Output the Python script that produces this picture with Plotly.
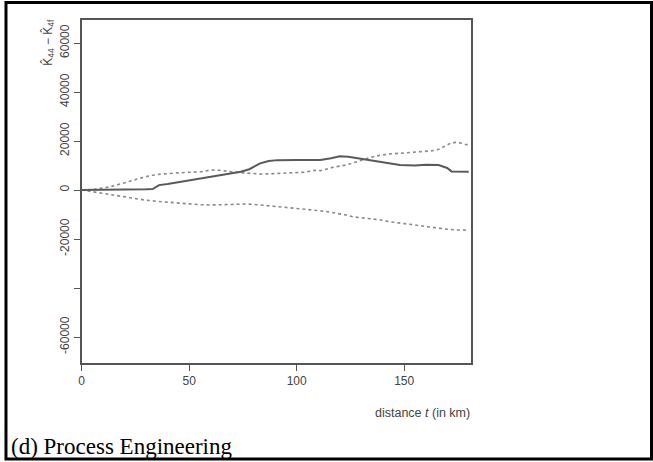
import plotly.graph_objects as go

# ---------------- data ----------------
t_est = [0, 5, 10, 20, 30, 33, 36, 40, 46, 52, 56, 62, 68, 74, 78, 83, 87, 91, 100,
         111, 116, 120, 124, 128, 132, 135, 140, 143, 148, 155, 160, 166, 170, 172,
         176, 180]
k_est = [0, 0, 0, 200, 300, 400, 2000, 2500, 3400, 4000, 4800, 5800, 6500, 7500,
         8500, 10900, 11800, 12200, 12300, 12300, 13000, 13800, 13600, 13000, 12600,
         12200, 11300, 10900, 10200, 10000, 10300, 10200, 9000, 7600, 7500, 7500]

t_upper = [0, 5, 10, 14, 19, 24, 29.5, 33, 37, 45, 50, 56, 60, 65, 70, 74, 79, 83,
           90, 99, 104, 108, 111, 117, 120, 123, 126, 129, 132, 135, 139, 143, 148,
           153, 158, 163, 166, 169, 172, 175, 178, 180]
k_upper = [0, 200, 800, 1500, 2700, 4000, 5400, 6000, 6500, 7000, 7300, 7500, 8200,
           8000, 7400, 7100, 6700, 6500, 6700, 7000, 7300, 8000, 7900, 9300, 9600,
           10200, 11000, 11900, 12600, 13500, 14200, 14700, 15000, 15400, 15600,
           16000, 16600, 17800, 19300, 19500, 18600, 18500]

t_lower = [0, 5, 10, 14, 20, 25, 29.5, 35, 40, 45, 50, 55, 60, 65, 70, 77, 83, 88,
           93, 99, 104, 108, 114, 118, 123, 126, 131, 135, 139, 143, 148, 155, 160,
           166, 170, 175, 180]
k_lower = [0, -700, -1300, -2000, -2600, -3500, -4100, -4600, -5000, -5400, -5700,
           -6000, -6100, -6000, -5900, -5700, -6100, -6500, -6800, -7400, -7700,
           -8200, -8800, -9300, -10200, -10900, -11400, -11600, -12200, -12900,
           -13500, -14300, -14800, -15600, -16000, -16300, -16400]

x_ticks = [0, 50, 100, 150]
y_ticks = [-60000, -40000, -20000, 0, 20000, 40000, 60000]
y_ticktext = ["-60000", "", "-20000", "0", "20000", "40000", "60000"]

W, H = 653, 462
axis_col = "#555555"
txt_col = "#444444"

fig = go.Figure()
fig.add_trace(go.Scatter(x=t_upper, y=k_upper, mode="lines",
                         line=dict(color="#8a8a8a", width=1.6, dash="dot")))
fig.add_trace(go.Scatter(x=t_lower, y=k_lower, mode="lines",
                         line=dict(color="#8a8a8a", width=1.6, dash="dot")))
fig.add_trace(go.Scatter(x=t_est, y=k_est, mode="lines",
                         line=dict(color="#5a5a5a", width=2)))

fig.update_layout(
    width=W, height=H,
    margin=dict(l=0, r=0, t=0, b=0),
    paper_bgcolor="white", plot_bgcolor="white",
    showlegend=False,
    font=dict(family="Liberation Sans, Arial", size=12, color=txt_col),
    xaxis=dict(domain=[79 / W, 470 / W], range=[0, 181],
               tickvals=x_ticks, ticks="outside", ticklen=6, tickcolor=axis_col,
               showline=True, linecolor=axis_col, linewidth=1.5, mirror=True,
               showgrid=False, zeroline=False,
               tickfont=dict(size=12, color=txt_col)),
    yaxis=dict(domain=[(H - 363) / H, (H - 19.5) / H], range=[-70600, 69600],
               tickvals=y_ticks, ticktext=y_ticktext, tickangle=-90,
               ticks="outside", ticklen=6, tickcolor=axis_col,
               showline=True, linecolor=axis_col, linewidth=1.5, mirror=True,
               showgrid=False, zeroline=False,
               tickfont=dict(size=12, color=txt_col)),
)

# axis titles
fig.add_annotation(text="K\u0302<sub>44</sub> \u2212 K\u0302<sub>4f</sub>",
                   xref="paper", yref="paper", x=45 / W, y=1 - 42 / H,
                   xanchor="center", yanchor="middle",
                   textangle=-90, showarrow=False,
                   font=dict(size=12, color=txt_col))
fig.add_annotation(text="distance <i>t</i> (in km)",
                   xref="paper", yref="paper", x=471 / W, y=1 - 413 / H,
                   xanchor="right", yanchor="middle", showarrow=False,
                   font=dict(size=12.5, color=txt_col))

# caption of the table cell
fig.add_annotation(text="(d) Process Engineering",
                   xref="paper", yref="paper", x=6 / W, y=1 - 446 / H,
                   xanchor="left", yanchor="middle", showarrow=False,
                   font=dict(family="Liberation Serif, Times New Roman", size=23,
                             color="black"))

# cell border
fig.add_shape(type="rect", xref="paper", yref="paper",
              x0=3 / W, x1=651.5 / W, y0=1 - 459 / H, y1=1 - 2.5 / H,
              line=dict(color="black", width=3))

# drop the browser's default body margin so the figure fills the window
fig.write_html("out.html", config={"displayModeBar": False},
               post_script="document.body.style.margin='0px';")
